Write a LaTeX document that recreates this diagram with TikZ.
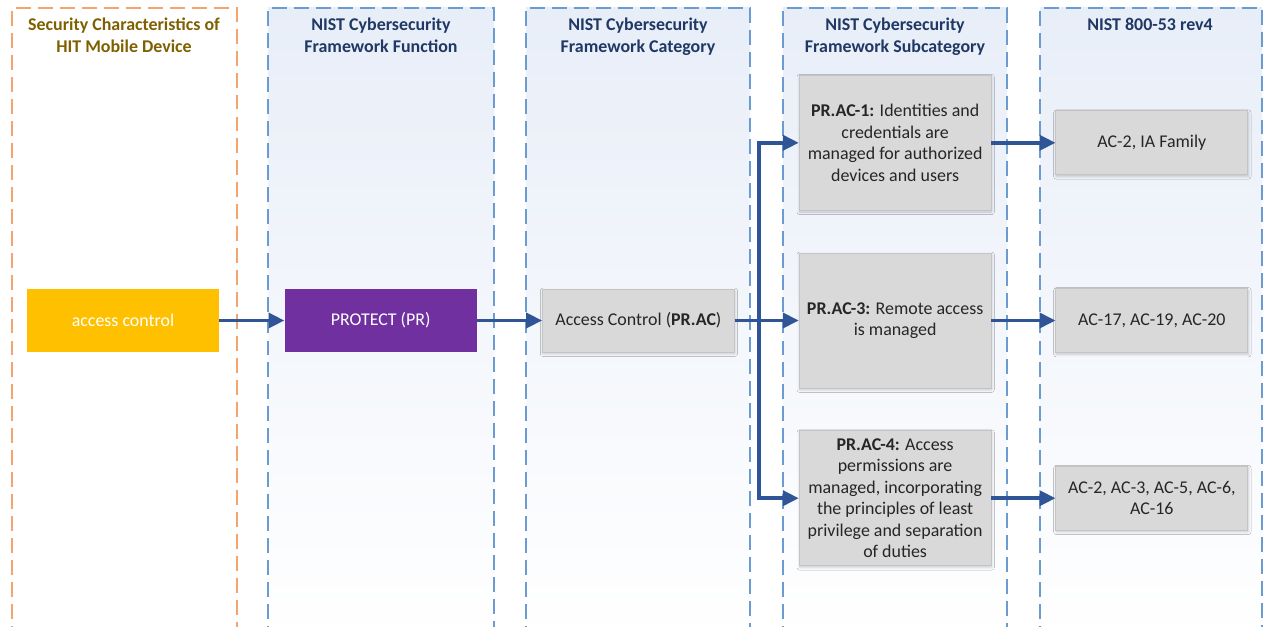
\documentclass[tikz,border=0pt]{standalone}
\usepackage{fontspec}
\setmainfont{Carlito}
\usetikzlibrary{arrows.meta,positioning,shadows.blur}
\definecolor{Lane}{HTML}{6C9BD2}
\definecolor{LaneOrange}{HTML}{F4A46C}
\definecolor{LaneTop}{HTML}{E8EEF8}
\definecolor{Navy}{HTML}{1F3864}
\definecolor{Olive}{HTML}{7F6000}
\definecolor{Flow}{HTML}{2F5597}
\definecolor{Amber}{HTML}{FFC000}
\definecolor{Purple}{HTML}{7030A0}
\definecolor{Box}{HTML}{D9D9D9}
\definecolor{BoxLine}{HTML}{C4C4C4}
\definecolor{Ink}{HTML}{262626}

\begin{document}
\begin{tikzpicture}[x=1cm,y=1cm,
  every node/.style={font=\fontsize{10.2}{12.2}\selectfont},
  lane/.style={draw=Lane,line width=0.7pt,dash pattern=on 8.5pt off 4pt,top color=LaneTop,bottom color=white},
  head/.style={font=\fontsize{10.2}{12.2}\selectfont\bfseries,text=Navy,align=center,anchor=north},
  keybox/.style={minimum width=3.84cm,minimum height=1.26cm,inner sep=2pt,align=center,text=white},
  graybox/.style={fill=Box,draw=BoxLine,line width=0.4pt,text=Ink,align=center,inner sep=2pt,
    minimum width=3.84cm,blur shadow={shadow xshift=0.3pt,shadow yshift=-1pt,shadow blur radius=1.5pt,shadow opacity=20}},
  subbox/.style={graybox,minimum height=2.7cm},
  ctrlbox/.style={graybox,minimum height=1.28cm},
  flow/.style={draw=Flow,line width=2pt,-{Triangle[length=9pt,width=8.5pt]}}]
\path[use as bounding box] (0,0) rectangle (25.26,12.52);

% lanes
\draw[draw=LaneOrange,line width=0.7pt,dash pattern=on 8.5pt off 4pt] (0.24,-0.3) rectangle (4.74,12.36);
\foreach \xa/\xb in {5.36/9.88,10.52/15.0,15.66/20.14,20.8/25.24}{
  \draw[lane] (\xa,-0.3) rectangle (\xb,12.36);
}
\node[head,text=Olive] (h1) at (2.48,12.28) {Security Characteristics of\\HIT Mobile Device};
\node[head] (h2) at (7.62,12.28) {NIST Cybersecurity\\Framework Function};
\node[head] (h3) at (12.76,12.28) {NIST Cybersecurity\\Framework Category};
\node[head] (h4) at (17.9,12.28) {NIST Cybersecurity\\Framework Subcategory};
\node[head] (h5) at (23.0,12.28) {NIST 800-53 rev4};

% middle row
\node[keybox,fill=Amber] (access) at (2.46,6.11) {access control};
\node[keybox,fill=Purple,right=1.3cm of access] (protect) {PROTECT (PR)};
\node[graybox,minimum height=1.26cm,right=1.3cm of protect] (cat) {Access Control (\textbf{PR.AC})};

% subcategories
\node[subbox,right=1.28cm of cat] (sub3) {\textbf{PR.AC-3:} Remote access\\is managed};
\node[subbox,above=0.84cm of sub3] (sub1) {\textbf{PR.AC-1:} Identities and\\credentials are\\managed for authorized\\devices and users};
\node[subbox,below=0.84cm of sub3] (sub4) {\textbf{PR.AC-4:} Access\\permissions are\\managed, incorporating\\the principles of least\\privilege and separation\\of duties};

% 800-53 controls
\node[ctrlbox,right=1.28cm of sub1] (ctrl1) {AC-2, IA Family};
\node[ctrlbox,right=1.28cm of sub3] (ctrl3) {AC-17, AC-19, AC-20};
\node[ctrlbox,right=1.28cm of sub4] (ctrl4) {AC-2, AC-3, AC-5, AC-6,\\AC-16};

% connectors
\draw[flow] (access) -- (protect);
\draw[flow] (protect) -- (cat);
\draw[flow] (cat) -- (sub3);
\coordinate[right=0.48cm of cat.east] (split);
\draw[flow] (split) |- (sub1);
\draw[flow] (split) |- (sub4);
\draw[flow] (sub1) -- (ctrl1);
\draw[flow] (sub3) -- (ctrl3);
\draw[flow] (sub4) -- (ctrl4);
\end{tikzpicture}
\end{document}
